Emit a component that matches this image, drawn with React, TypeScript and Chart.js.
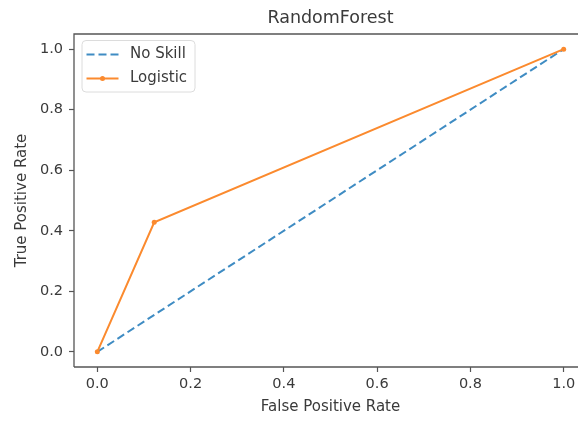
import React, { useEffect, useRef } from "react";
import { Chart, registerables } from "chart.js";

Chart.register(...registerables);

// ROC curve data
const noSkillFpr = [0, 1];
const noSkillTpr = [0, 1];
const logisticFpr = [0, 0.122, 1];
const logisticTpr = [0, 0.428, 1];
const tickValues = [0, 0.2, 0.4, 0.6, 0.8, 1.0];

const chartTitle = "RandomForest";
const xLabel = "False Positive Rate";
const yLabel = "True Positive Rate";
const seriesNames = ["No Skill", "Logistic"];

const BLUE = "#3f8cc3";
const ORANGE = "#fb8a2e";
const TEXT = "#3a3a3a";
const SPINE = "#555555";
const FONT = "'DejaVu Sans', sans-serif";

const toPoints = (xs: number[], ys: number[]) => xs.map((x, i) => ({ x, y: ys[i] }));

// Draws the frame, the title and a matplotlib-like legend inside the plot area.
const decorations = {
  id: "decorations",
  beforeDatasetsDraw(chart: any) {
    const { ctx, chartArea: a } = chart;
    ctx.save();
    ctx.strokeStyle = SPINE;
    ctx.lineWidth = 1.3;
    ctx.beginPath();
    ctx.moveTo(a.left, a.bottom);
    ctx.lineTo(a.left, a.top);
    ctx.lineTo(a.right, a.top);
    ctx.lineTo(a.right, a.bottom);
    ctx.lineTo(a.left, a.bottom);
    ctx.stroke();
    ctx.restore();
  },
  afterDraw(chart: any) {
    const { ctx, chartArea: a } = chart;
    ctx.save();
    // title
    ctx.fillStyle = TEXT;
    ctx.font = `17.5px ${FONT}`;
    ctx.textAlign = "center";
    ctx.textBaseline = "middle";
    ctx.fillText(chartTitle, (a.left + a.right) / 2, 18);

    // legend
    const bx = a.left + 8;
    const by = a.top + 6.5;
    const bw = 113;
    const bh = 51.5;
    ctx.beginPath();
    ctx.roundRect(bx, by, bw, bh, 4);
    ctx.fillStyle = "rgba(255,255,255,0.85)";
    ctx.fill();
    ctx.strokeStyle = "#dcdcdc";
    ctx.lineWidth = 1;
    ctx.stroke();

    const datasets = chart.data.datasets;
    const rows = [by + 14, by + 38];
    datasets.forEach((ds: any, i: number) => {
      const y = rows[i];
      const x0 = bx + 4.5;
      const x1 = bx + 36.5;
      ctx.strokeStyle = ds.borderColor;
      ctx.lineWidth = 2;
      ctx.setLineDash(ds.borderDash || []);
      ctx.beginPath();
      ctx.moveTo(x0, y);
      ctx.lineTo(x1, y);
      ctx.stroke();
      ctx.setLineDash([]);
      if (ds.pointRadius > 0) {
        ctx.fillStyle = ds.borderColor;
        ctx.beginPath();
        ctx.arc((x0 + x1) / 2, y, ds.pointRadius, 0, Math.PI * 2);
        ctx.fill();
      }
      ctx.fillStyle = TEXT;
      ctx.font = `15px ${FONT}`;
      ctx.textAlign = "left";
      ctx.textBaseline = "middle";
      ctx.fillText(ds.label, bx + 48, y);
    });
    ctx.restore();
  },
};

export default function App() {
  const canvasRef = useRef<HTMLCanvasElement | null>(null);

  useEffect(() => {
    const canvas = canvasRef.current;
    if (!canvas) return;
    const tickFont = { family: FONT, size: 14.5 };
    const axisCommon = {
      type: "linear" as const,
      min: -0.05,
      max: 1.05,
      afterBuildTicks: (scale: any) => {
        scale.ticks = tickValues.map((v) => ({ value: v }));
      },
      grid: {
        drawOnChartArea: false,
        drawTicks: true,
        tickLength: 5,
        tickWidth: 1.2,
        tickColor: SPINE,
      },
      border: { display: false },
    };

    const chart = new Chart(canvas, {
      type: "scatter",
      data: {
        datasets: [
          {
            label: seriesNames[0],
            data: toPoints(noSkillFpr, noSkillTpr),
            showLine: true,
            borderColor: BLUE,
            backgroundColor: BLUE,
            borderWidth: 2,
            borderDash: [8, 4],
            pointRadius: 0,
            order: 2,
          },
          {
            label: seriesNames[1],
            data: toPoints(logisticFpr, logisticTpr),
            showLine: true,
            borderColor: ORANGE,
            backgroundColor: ORANGE,
            borderWidth: 2,
            pointRadius: 2.5,
            pointBorderWidth: 0,
            order: 1,
          },
        ],
      },
      options: {
        responsive: false,
        animation: false,
        devicePixelRatio: 1,
        layout: { padding: { top: 34, right: 13, left: 0, bottom: 0 } },
        plugins: {
          legend: { display: false },
          tooltip: { enabled: false },
          title: { display: false },
        },
        scales: {
          x: {
            ...axisCommon,
            position: "bottom",
            afterFit: (scale: any) => {
              scale.height = 54;
            },
            ticks: {
              font: tickFont,
              color: TEXT,
              padding: 4,
              maxRotation: 0,
              callback: (v: any) => Number(v).toFixed(1),
            },
            title: {
              display: true,
              text: xLabel,
              color: TEXT,
              font: { family: FONT, size: 15 },
              padding: { top: 0, bottom: 5 },
            },
          },
          y: {
            ...axisCommon,
            position: "left",
            afterFit: (scale: any) => {
              scale.width = 74;
            },
            ticks: {
              font: tickFont,
              color: TEXT,
              padding: 6,
              callback: (v: any) => Number(v).toFixed(1),
            },
            title: {
              display: true,
              text: yLabel,
              color: TEXT,
              font: { family: FONT, size: 15 },
              padding: { top: 13, bottom: 0 },
            },
          },
        },
      },
      plugins: [decorations],
    } as any);

    return () => chart.destroy();
  }, []);

  return (
    <div
      style={{
        position: "fixed",
        left: 0,
        top: 0,
        width: 578,
        height: 421,
        overflow: "hidden",
        background: "#ffffff",
      }}
    >
      <canvas ref={canvasRef} width={600} height={421} style={{ display: "block" }} />
    </div>
  );
}
